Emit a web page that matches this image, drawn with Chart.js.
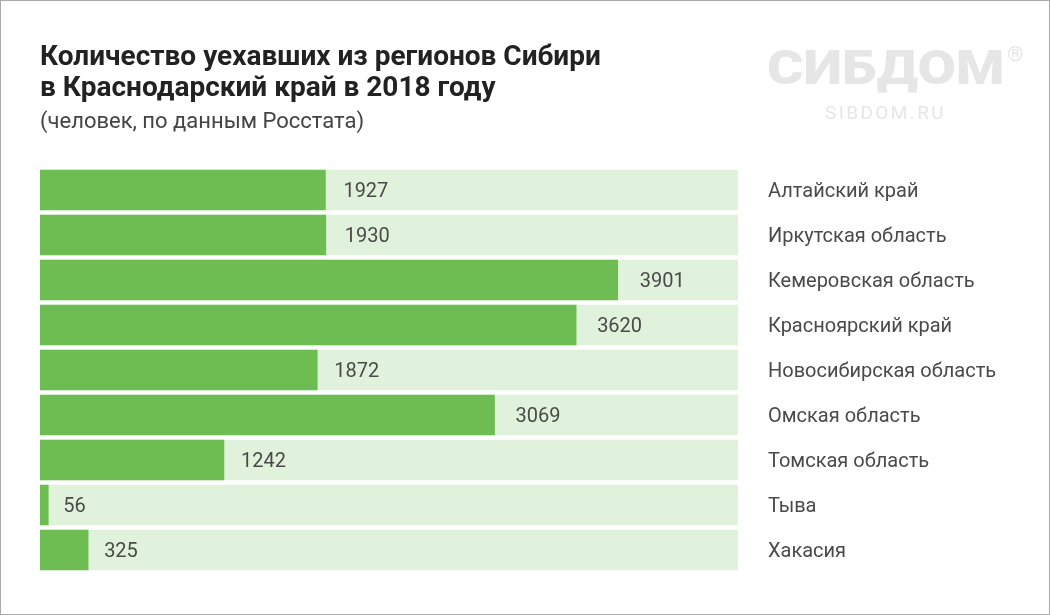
<!DOCTYPE html>
<html><head><meta charset="utf-8">
<script src="https://cdn.jsdelivr.net/npm/chart.js@4"></script>
<style>
html,body{margin:0;padding:0;background:#fff;}
#wrap{position:relative;width:1050px;height:615px;overflow:hidden;font-family:Roboto,sans-serif;background:#fff;}
#frame{position:absolute;left:0;top:0;width:1048px;height:613px;border:1px solid #aaa;pointer-events:none;}
canvas{position:absolute;left:0;top:0;}
.t{position:absolute;white-space:nowrap;}
#title{left:40px;top:40px;font-size:28px;font-weight:700;line-height:31px;color:#222;}
#sub{left:40px;top:108px;font-size:22px;line-height:26px;color:#444;}
#logo{left:767px;top:36px;font-size:49px;font-weight:900;line-height:64px;color:#e6e6e6;transform-origin:left top;transform:scaleX(1.135);}
#reg{left:1007px;top:42px;font-size:21px;line-height:24px;color:#e6e6e6;}
#url{left:825px;top:102px;font-size:19px;line-height:22px;letter-spacing:2.4px;color:#e6e6e6;}
</style></head><body>
<div id="wrap">
<canvas id="c" width="1050" height="615" style="width:1050px;height:615px"></canvas>
<div class="t" id="title">Количество уехавших из регионов Сибири<br>в Краснодарский край в 2018 году</div>
<div class="t" id="sub">(человек, по данным Росстата)</div>
<div class="t" id="logo">СИБДОМ</div>
<div class="t" id="reg">®</div>
<div class="t" id="url">SIBDOM.RU</div>
<div id="frame"></div>
</div>
<script>
const categories = ["Алтайский край","Иркутская область","Кемеровская область","Красноярский край","Новосибирская область","Омская область","Томская область","Тыва","Хакасия"];
const people = [1927,1930,3901,3620,1872,3069,1242,56,325];
const axisMax = 4713;
const track = categories.map(() => axisMax);
const labelGaps = [18,19,22,21,17,21,17,15,16];

const textNudge = {
  id:'textNudge',
  beforeDraw(chart){
    chart.scales.y.getLabelItems(chart.chartArea).forEach(item=>{
      if(!item.nudged){ item.options.translation[1] += 2; item.nudged = true; }
    });
  }
};
const valueLabels = {
  id:'valueLabels',
  afterDatasetsDraw(chart){
    const {ctx,scales:{x,y}} = chart;
    ctx.save();
    ctx.font = '20px Roboto, sans-serif';
    ctx.fillStyle = '#4a4a4a';
    ctx.textAlign = 'left';
    ctx.textBaseline = 'middle';
    people.forEach((v,i)=>{
      ctx.fillText(String(v), x.getPixelForValue(v)+labelGaps[i], y.getPixelForValue(i)+2);
    });
    ctx.restore();
  }
};

new Chart(document.getElementById('c'),{
  type:'bar',
  data:{labels:categories,datasets:[
    {label:'Уехавшие',data:people,backgroundColor:'#6dbd53',order:1,grouped:false,barThickness:40},
    {label:'Шкала',data:track,backgroundColor:'#e1f2dc',order:2,grouped:false,barThickness:40}
  ]},
  options:{
    indexAxis:'y',responsive:false,animation:false,devicePixelRatio:1,
    layout:{padding:{left:40,top:167.5,bottom:42.5,right:0}},
    plugins:{legend:{display:false},tooltip:{enabled:false},title:{display:false}},
    scales:{
      x:{display:false,min:0,max:axisMax},
      y:{position:'right',grid:{display:false},border:{display:false},
         afterFit(s){s.width=312;},
         ticks:{color:'#4a4a4a',padding:22,align:'center',crossAlign:'near',autoSkip:false,font:{family:'Roboto, sans-serif',size:20}}}
    }
  },
  plugins:[textNudge,valueLabels]
});
</script>
</body></html>
